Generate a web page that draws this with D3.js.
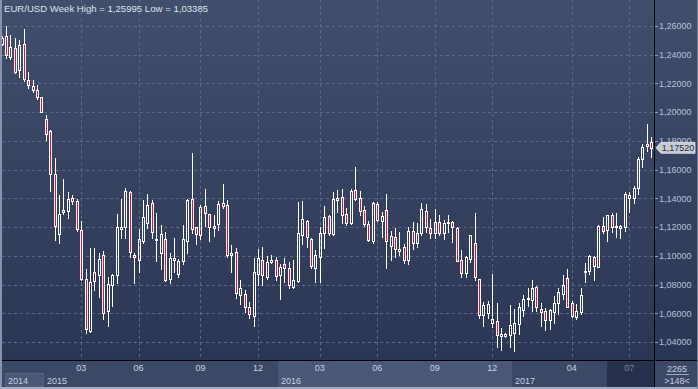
<!DOCTYPE html>
<html><head><meta charset="utf-8">
<script src="https://cdn.jsdelivr.net/npm/d3@7"></script>
<style>
html,body{margin:0;padding:0;background:#2d3856;overflow:hidden}
svg{display:block}
text{font-family:"Liberation Sans",Arial,sans-serif}
</style>
</head><body>
<svg id="c" width="698" height="389"></svg>
<script>
// ---- data (weekly EUR/USD candles) ----
const opens=[1.2475,1.2530,1.2382,1.2449,1.2294,1.2473,1.2224,1.2182,1.2155,1.2104,
1.1951,1.1869,1.1568,1.1150,1.1302,1.1310,1.1401,1.1380,1.1180,1.0839,
1.0475,1.0823,1.0865,1.1004,1.0614,1.0795,1.0865,1.1185,1.1199,1.1443,
1.1004,1.0969,1.1106,1.1227,1.1366,1.1113,1.1018,1.1116,1.0839,1.0974,
1.0872,1.0964,1.1104,1.1394,1.1199,1.1145,1.1347,1.1290,1.1192,1.1219,
1.1366,1.1354,1.1018,1.1025,1.0730,1.0733,1.0642,1.0584,1.0872,1.0970,
1.0855,1.0960,1.0970,1.0863,1.0942,1.0914,1.0786,1.0825,1.1143,1.1239,
1.1116,1.0914,1.0992,1.1161,1.1274,1.1154,1.1389,1.1408,1.1290,1.1229,
1.1459,1.1401,1.1316,1.1221,1.1102,1.1360,1.1245,1.1322,1.1070,1.1130,
1.1047,1.1062,1.0969,1.1171,1.1092,1.1157,1.1312,1.1192,1.1157,1.1234,
1.1157,1.1231,1.1234,1.1196,1.0971,1.0879,1.0976,1.1088,1.0837,1.0587,
1.0600,1.0531,1.0547,1.0440,1.0445,1.0447,1.0461,1.0528,1.0621,1.0698,
1.0693,1.0782,1.0630,1.0619,1.0554,1.0606,1.0672,1.0733,1.0844,1.0674,
1.0575,1.0606,1.0884,1.0897,1.0994,1.0921,1.1208,1.1180,1.1283,1.1199,
1.1208,1.1199,1.1424,1.1401,1.1470,1.1672,1.1767,1.1793];
const highs=[1.2530,1.25995,1.2537,1.2514,1.2503,1.2577,1.2282,1.2224,1.2189,1.2108,
1.1981,1.1876,1.1679,1.1424,1.1535,1.1443,1.1424,1.1396,1.1243,1.0909,
1.1055,1.1055,1.1018,1.1036,1.0855,1.0874,1.1294,1.1396,1.1470,1.1452,
1.1018,1.1185,1.1387,1.1431,1.1389,1.1296,1.1215,1.1164,1.1018,1.1127,
1.0976,1.1215,1.1396,1.1714,1.1201,1.1354,1.1466,1.1292,1.1285,1.1382,
1.1500,1.1389,1.1076,1.1053,1.0832,1.0763,1.0679,1.0983,1.1050,1.1061,
1.0998,1.1004,1.0994,1.0946,1.0984,1.0954,1.0971,1.1377,1.1380,1.1250,
1.1122,1.1041,1.1201,1.1347,1.1287,1.1447,1.1459,1.1464,1.1333,1.1464,
1.1619,1.1452,1.1345,1.1241,1.1375,1.1373,1.1306,1.1432,1.1175,1.1196,
1.1166,1.1083,1.1203,1.1236,1.1225,1.1368,1.1359,1.1255,1.1326,1.1285,
1.1250,1.1285,1.1244,1.1201,1.1041,1.0999,1.1147,1.1296,1.0840,1.0681,
1.0686,1.0873,1.0672,1.0496,1.0461,1.0658,1.0630,1.0672,1.0726,1.0774,
1.0832,1.0790,1.0674,1.0637,1.0632,1.0721,1.0778,1.0867,1.0909,1.0686,
1.0662,1.0774,1.0948,1.1003,1.0999,1.1215,1.1271,1.1285,1.1296,1.1296,
1.1215,1.1447,1.1447,1.1489,1.1690,1.1781,1.1918,1.1825];
const lows=[1.2468,1.2375,1.2368,1.2271,1.2247,1.2219,1.2166,1.2143,1.2090,1.2000,
1.1807,1.1454,1.1113,1.1092,1.1290,1.1266,1.1361,1.1173,1.0832,1.0461,
1.0470,1.0763,1.0712,1.0561,1.0514,1.0653,1.0811,1.1127,1.1127,1.0994,
1.0813,1.0886,1.1088,1.1192,1.1127,1.0967,1.0911,1.0825,1.0809,1.0890,
1.0851,1.0942,1.1018,1.1157,1.1083,1.1120,1.1210,1.1102,1.1136,1.1180,
1.1331,1.0994,1.0890,1.0705,1.0665,1.0612,1.0566,1.0514,1.0797,1.0795,
1.0839,1.0953,1.0832,1.0702,1.0818,1.0774,1.0777,1.0820,1.1083,1.1064,
1.0914,1.0820,1.0820,1.1055,1.1142,1.1145,1.1302,1.1227,1.1217,1.1222,
1.1389,1.1283,1.1206,1.1106,1.1092,1.1245,1.1128,1.0914,1.0969,1.0994,
1.1003,1.0951,1.0944,1.1050,1.1058,1.1142,1.1166,1.1122,1.1122,1.1145,
1.1118,1.1168,1.1099,1.0962,1.0855,1.0852,1.0957,1.0829,1.0566,1.0514,
1.0568,1.0507,1.0364,1.0347,1.0438,1.0368,1.03385,1.0455,1.0583,1.0651,
1.0614,1.0616,1.0512,1.0486,1.0489,1.0531,1.0594,1.0700,1.0642,1.0575,
1.0563,1.0598,1.0820,1.0871,1.0832,1.0919,1.1161,1.1106,1.1163,1.1128,
1.1122,1.1173,1.1308,1.1370,1.1431,1.1615,1.1731,1.1690];
const closes=[1.2516,1.2395,1.2456,1.2282,1.2466,1.2229,1.2187,1.2155,1.2104,1.2004,
1.1846,1.1567,1.1205,1.1290,1.1317,1.1395,1.1380,1.1187,1.0839,1.0489,
1.0816,1.0886,1.0976,1.0600,1.0802,1.0865,1.1199,1.1199,1.1452,1.1025,
1.0990,1.1116,1.1269,1.1354,1.1164,1.1120,1.1150,1.0830,1.0983,1.0985,
1.0964,1.1116,1.1387,1.1185,1.1150,1.1338,1.1296,1.1199,1.1210,1.1361,
1.1345,1.1006,1.1003,1.0740,1.0774,1.0646,1.0594,1.0886,1.0983,1.0867,
1.0955,1.0971,1.0862,1.0921,1.0914,1.0795,1.0831,1.1157,1.1253,1.1129,
1.0932,1.1003,1.1157,1.1269,1.1161,1.1395,1.1402,1.1283,1.1227,1.1453,
1.1397,1.1310,1.1221,1.1111,1.1368,1.1252,1.1278,1.1106,1.1138,1.1046,
1.1031,1.0974,1.1173,1.1088,1.1157,1.1324,1.1198,1.1157,1.1234,1.1157,
1.1227,1.1237,1.1199,1.0967,1.0879,1.0990,1.1145,1.0851,1.0585,1.0658,
1.0664,1.0561,1.0446,1.0455,1.0455,1.0519,1.0531,1.0643,1.0698,1.0706,
1.0778,1.0642,1.0612,1.0554,1.0626,1.0672,1.0745,1.0797,1.0646,1.0582,
1.0616,1.0728,1.0893,1.0997,1.0932,1.1210,1.1175,1.1283,1.1199,1.1208,
1.1192,1.1431,1.1401,1.1473,1.1676,1.1758,1.1779,1.1752];
const priceTicks=[1.04,1.06,1.08,1.10,1.12,1.14,1.16,1.18,1.20,1.22,1.24,1.26];
const monthTickIdx=[18,31,45,58,72,85,98,111,129,142];
const monthTickLabels=["03","06","09","12","03","06","09","12","04","07"];
const yearLabels=["2014","2015","2016","2017"];
const yearStartIdx=[-0.4,9.5,62.5,115.5];
const lastPrice=1.1752;
const titleText="EUR/USD Week High = 1,25995 Low = 1,03385";
const barCountTop="2265", barCountBottom=">148<";

// ---- layout ----
const W=698,H=389,plotL=2,plotR=654,plotB=360;
const svg=d3.select("#c");
const xs=d3.scaleLinear().domain([0,opens.length-1]).range([1.6,651.3]);
const ys=d3.scaleLinear().domain([1.04,1.26]).range([342,26]);
const fmt=v=>v.toFixed(5).replace(".",",");

const defs=svg.append("defs");
const g=defs.append("linearGradient").attr("id","bg").attr("x1",0).attr("y1",0).attr("x2",0).attr("y2",1);
g.append("stop").attr("offset","0%").attr("stop-color","#414f6c");
g.append("stop").attr("offset","100%").attr("stop-color","#2b3654");
defs.append("clipPath").attr("id","plotclip").append("rect")
  .attr("x",plotL).attr("y",0).attr("width",plotR-plotL).attr("height",plotB);

svg.append("rect").attr("x",0).attr("y",0).attr("width",W).attr("height",plotB).attr("fill","url(#bg)");

// gridlines
const grid=svg.append("g").attr("clip-path","url(#plotclip)");
grid.selectAll("line.h").data(priceTicks).join("line")
  .attr("x1",plotL).attr("x2",plotR)
  .attr("y1",d=>Math.round(ys(d))+0.5).attr("y2",d=>Math.round(ys(d))+0.5)
  .attr("stroke","#5b6a8a").attr("stroke-dasharray","3,3");
grid.selectAll("line.v").data(monthTickIdx).join("line")
  .attr("y1",0).attr("y2",plotB)
  .attr("x1",d=>Math.round(xs(d))+0.5).attr("x2",d=>Math.round(xs(d))+0.5)
  .attr("stroke","#5b6a8a").attr("stroke-dasharray","3,3");

// candles
const candles=opens.map((o,i)=>({i,o,h:highs[i],l:lows[i],c:closes[i]}));
const cg=svg.append("g").attr("clip-path","url(#plotclip)");
candles.forEach(d=>{
  const cx=Math.round(xs(d.i))+0.5;
  let top=Math.round(ys(Math.max(d.o,d.c)))+0.5;
  let bot=Math.round(ys(Math.min(d.o,d.c)))+0.5;
  if(bot-top<1) bot=top+1;
  const hy=Math.round(ys(d.h))+0.5, ly=Math.round(ys(d.l))+0.5;
  if(hy<top) cg.append("line").attr("x1",cx).attr("x2",cx).attr("y1",hy-0.5).attr("y2",top).attr("stroke","#fff");
  if(ly>bot) cg.append("line").attr("x1",cx).attr("x2",cx).attr("y1",bot).attr("y2",ly+0.5).attr("stroke","#fff");
  cg.append("rect").attr("x",cx-1).attr("y",top).attr("width",2).attr("height",bot-top)
    .attr("fill",d.c<d.o?"#e3112f":"none").attr("stroke","#fff").attr("stroke-width",1);
});

// title
svg.append("text").attr("x",4).attr("y",12).attr("fill","#dde4ef").attr("font-size","9.6px").text(titleText);

// right axis
svg.selectAll("text.pl").data(priceTicks).join("text")
  .attr("x",659).attr("y",d=>ys(d)+3.3).attr("fill","#b3c2da").attr("font-size","9px").text(fmt);
svg.selectAll("line.pt").data(priceTicks).join("line")
  .attr("x1",655).attr("x2",658).attr("y1",d=>Math.round(ys(d))+0.5).attr("y2",d=>Math.round(ys(d))+0.5)
  .attr("stroke","#8ea0c0");

// last price tag (covers the lower half of the 1,18000 label, as in the reference)
const py=ys(lastPrice);
svg.append("path").attr("d",`M656,${py} L661,${py-5.5} H695 V${py+5.5} H661 Z`)
  .attr("fill","#c7cbd3").attr("stroke","#e6e8ec").attr("stroke-width",0.8);
svg.append("text").attr("x",678).attr("y",py+3.2).attr("text-anchor","middle")
  .attr("fill","#2a2f3a").attr("font-size","9px").text(fmt(lastPrice));

// bottom axis
const ax=svg.append("g");
ax.append("rect").attr("x",0).attr("y",plotB).attr("width",W).attr("height",H-plotB).attr("fill","#3c4966");
const y16=xs(yearStartIdx[2]), y17=xs(yearStartIdx[3]);
ax.append("rect").attr("x",Math.round(y16)).attr("y",plotB+1).attr("width",Math.round(y17)-Math.round(y16)).attr("height",H-plotB-3).attr("fill","#4a5776");
ax.append("rect").attr("x",607).attr("y",plotB+1).attr("width",plotR-607).attr("height",H-plotB-3).attr("fill","#27314d");
ax.append("rect").attr("x",5.5).attr("y",373.5).attr("width",Math.round(xs(yearStartIdx[1]))-6).attr("height",13).attr("fill","#4a5776").attr("stroke","#56647f");
ax.selectAll("text.m").data(monthTickIdx).join("text")
  .attr("x",d=>xs(d)).attr("y",370.5).attr("text-anchor","middle")
  .attr("fill",(d,i)=>i===monthTickIdx.length-1?"#76839e":"#c6d0e2").attr("font-size","9px")
  .text((d,i)=>monthTickLabels[i]);
ax.selectAll("text.y").data(yearLabels).join("text")
  .attr("x",(d,i)=>i===0?8:Math.round(xs(yearStartIdx[i]))+3).attr("y",383.5)
  .attr("fill","#c6d0e2").attr("font-size","9px").text(d=>d);
ax.append("text").attr("x",677).attr("y",371.5).attr("text-anchor","middle").attr("fill","#c6d0e2").attr("font-size","9px").text(barCountTop);
ax.append("line").attr("x1",666).attr("x2",689).attr("y1",374.5).attr("y2",374.5).attr("stroke","#9aa8c2");
ax.append("text").attr("x",677).attr("y",383.5).attr("text-anchor","middle").attr("fill","#c6d0e2").attr("font-size","9px").text(barCountBottom);

// frame lines
svg.append("line").attr("x1",0).attr("x2",W).attr("y1",plotB+0.5).attr("y2",plotB+0.5).attr("stroke","#000");
svg.append("line").attr("x1",plotR+0.5).attr("x2",plotR+0.5).attr("y1",0).attr("y2",H).attr("stroke","#000");
svg.append("rect").attr("x",0).attr("y",0).attr("width",2).attr("height",H).attr("fill","#8793ad");
svg.append("rect").attr("x",0).attr("y",H-2).attr("width",W).attr("height",2).attr("fill","#a3adc0");
svg.append("rect").attr("x",W-1).attr("y",0).attr("width",1).attr("height",H).attr("fill","#6f7c98");
</script>
</body></html>
